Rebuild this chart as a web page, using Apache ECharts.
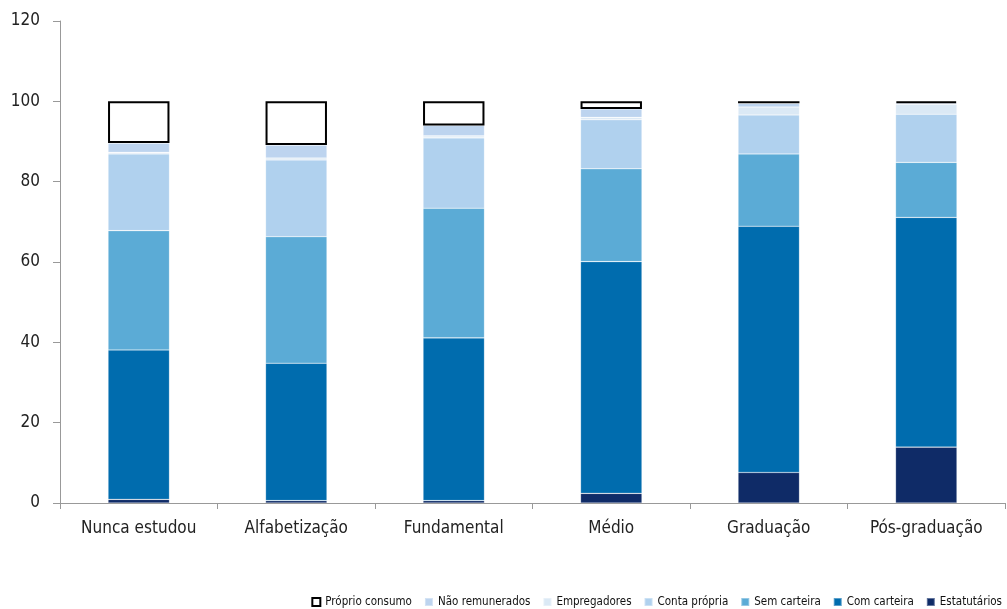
<!DOCTYPE HTML>
<html><head>
<meta charset="utf-8">
<title>Ocupação por escolaridade</title>
<script src="https://cdn.jsdelivr.net/npm/echarts@6/dist/echarts.min.js"></script>
<style>
html,body{margin:0;padding:0;background:#fff;}
#main{width:1007px;height:609px;}
</style>
</head>
<body>
<div id="main"></div>
<script type="text/javascript">
// categorias (escolaridade)
var categorias = ['Nunca estudou', 'Alfabetização', 'Fundamental', 'Médio', 'Graduação', 'Pós-graduação'];

// valores (%), de baixo para cima
var estatutarios    = [0.9, 0.6, 0.6, 2.4, 7.6, 13.9];
var comCarteira     = [37.2, 34.2, 40.5, 57.7, 61.3, 57.2];
var semCarteira     = [29.7, 31.5, 32.3, 23.1, 18.0, 13.7];
var contaPropria    = [19.1, 19.1, 17.5, 12.2, 9.7, 12.0];
var empregadores    = [0.4, 0.5, 0.5, 0.6, 2.0, 2.5];
var naoRemunerados  = [2.3, 3.2, 2.6, 2.1, 0.9, 0.3];
var proprioConsumo  = [10.4, 10.9, 6.0, 1.9, 0.5, 0.4];

var yTicks = [0, 20, 40, 60, 80, 100, 120];

var fonte = '"Liberation Sans Narrow", "DejaVu Sans Condensed", "Noto Sans", sans-serif';

var myChart = echarts.init(document.getElementById('main'), null, {renderer: 'canvas'});

function serie(nome, dados, cor, extra) {
    var s = {
        name: nome,
        type: 'bar',
        stack: 'total',
        barWidth: '39%',
        data: dados,
        itemStyle: { color: cor, borderColor: 'rgba(255,255,255,0.35)', borderWidth: 0.6 },
        emphasis: { disabled: true }
    };
    if (extra) { for (var k in extra) s.itemStyle[k] = extra[k]; }
    return s;
}

var option = {
    animation: false,
    textStyle: { fontFamily: fonte },
    grid: { left: 60, right: 2, top: 21, bottom: 106 },
    legend: {
        right: 0,
        top: 591,
        icon: 'rect',
        itemWidth: 8,
        itemHeight: 8,
        itemGap: 12,
        textStyle: { fontSize: 11.5, color: '#111', fontFamily: fonte },
        data: ['Próprio consumo', 'Não remunerados', 'Empregadores', 'Conta própria', 'Sem carteira', 'Com carteira', 'Estatutários']
    },
    xAxis: {
        type: 'category',
        data: categorias,
        axisLine: { lineStyle: { color: '#999', width: 1 } },
        axisTick: { show: true, length: 6, lineStyle: { color: '#999' } },
        axisLabel: { color: '#222', fontSize: 17, margin: 17, interval: 0, fontFamily: fonte }
    },
    yAxis: {
        type: 'value',
        min: yTicks[0],
        max: yTicks[yTicks.length - 1],
        interval: 20,
        splitLine: { show: false },
        axisLine: { show: true, lineStyle: { color: '#999', width: 1 } },
        axisTick: { show: true, length: 7, lineStyle: { color: '#999' } },
        axisLabel: { color: '#222', fontSize: 17, margin: 20, fontFamily: fonte }
    },
    series: [
        serie('Estatutários', estatutarios, '#0f2b67'),
        serie('Com carteira', comCarteira, '#006cae'),
        serie('Sem carteira', semCarteira, '#5babd6'),
        serie('Conta própria', contaPropria, '#b0d1ee'),
        serie('Empregadores', empregadores, '#dbe9f5'),
        serie('Não remunerados', naoRemunerados, '#bdd4ef'),
        serie('Próprio consumo', proprioConsumo, '#ffffff', { borderColor: '#000', borderWidth: 2 })
    ]
};

myChart.setOption(option);
</script>
</body>
</html>
